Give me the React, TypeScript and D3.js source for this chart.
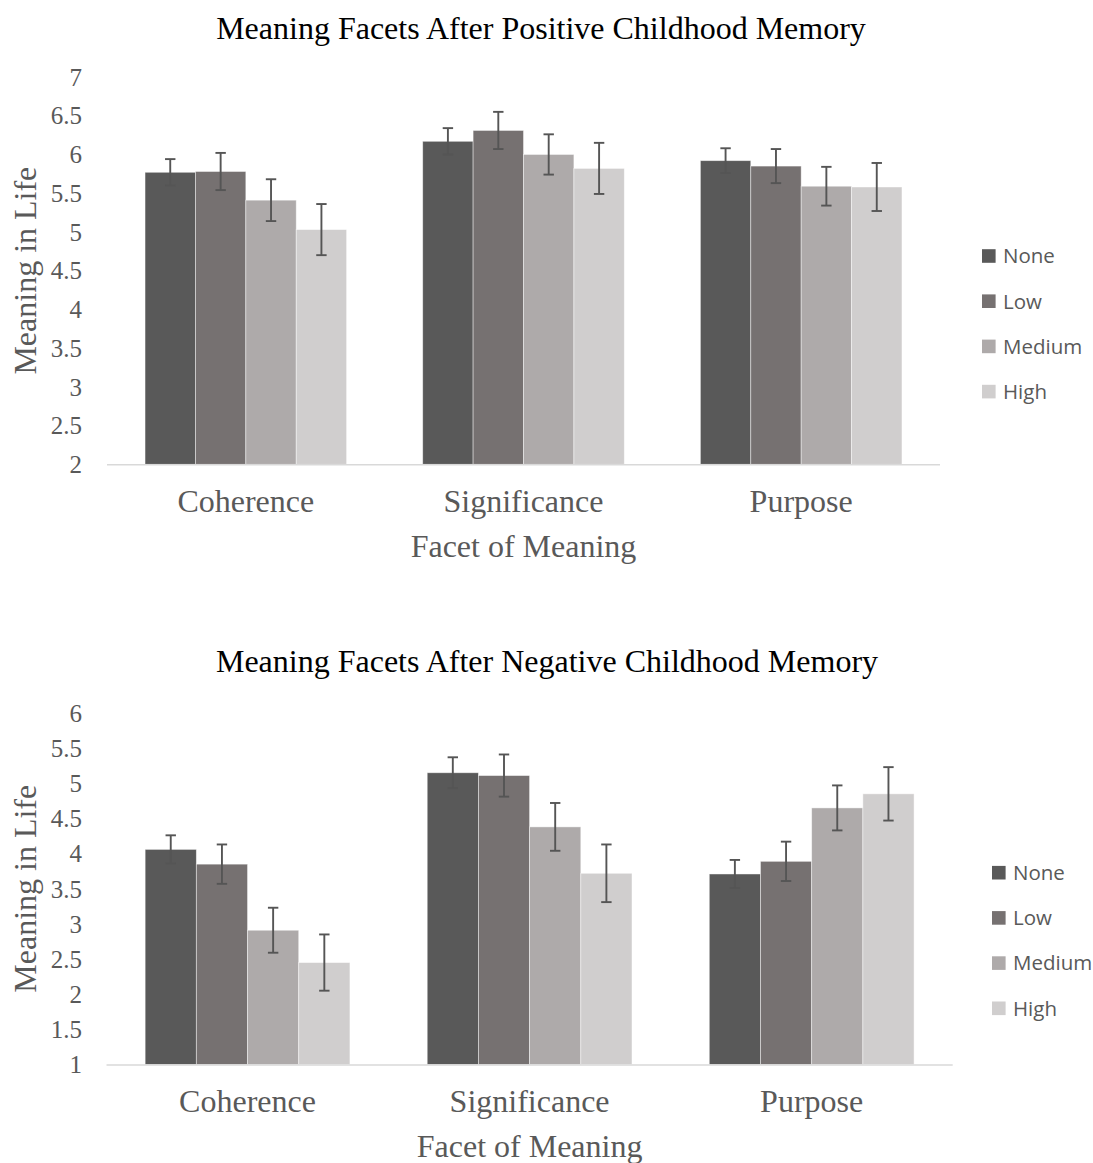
import React from "react";
import * as d3 from "d3";

// Facets of meaning and nostalgia-intensity groups
const categories = ["Coherence", "Significance", "Purpose"];
const groups = ["None", "Low", "Medium", "High"];
const groupColors = ["#595959", "#767171", "#AEAAAA", "#D0CECE"];

// Means and standard errors, one row per facet, one column per group
const positiveMeans = [
  [5.77, 5.78, 5.41, 5.03],
  [6.17, 6.31, 6.0, 5.82],
  [5.92, 5.85, 5.59, 5.58],
];
const positiveErrors = [
  [0.17, 0.24, 0.27, 0.33],
  [0.17, 0.24, 0.26, 0.33],
  [0.16, 0.22, 0.25, 0.31],
];
const negativeMeans = [
  [4.06, 3.85, 2.91, 2.45],
  [5.15, 5.11, 4.38, 3.72],
  [3.71, 3.89, 4.65, 4.85],
];
const negativeErrors = [
  [0.2, 0.28, 0.32, 0.4],
  [0.22, 0.3, 0.34, 0.41],
  [0.2, 0.28, 0.32, 0.38],
];

const positiveTicks = [2, 2.5, 3, 3.5, 4, 4.5, 5, 5.5, 6, 6.5, 7];
const negativeTicks = [1, 1.5, 2, 2.5, 3, 3.5, 4, 4.5, 5, 5.5, 6];

const SERIF = "'Liberation Serif', 'Times New Roman', serif";
const SANS = "'Open Sans', 'Noto Sans', sans-serif";
const TEXT = "#595959";
const BIG = 32;

type PanelProps = {
  title: string;
  titleX: number;
  titleY: number;
  means: number[][];
  errors: number[][];
  ticks: number[];
  xRange: [number, number];
  yRange: [number, number];
  legendX: number;
  legendY: number;
};

function Panel(p: PanelProps) {
  const x0 = d3
    .scaleBand<string>()
    .domain(categories)
    .range(p.xRange)
    .paddingInner(0.274)
    .paddingOuter(0.137);
  const x1 = d3.scaleBand<string>().domain(groups).range([0, x0.bandwidth()]);
  const y = d3
    .scaleLinear()
    .domain([p.ticks[0], p.ticks[p.ticks.length - 1]])
    .range(p.yRange);
  const fmt = d3.format("~g");
  const axisY = y(p.ticks[0]);
  const plotMid = (p.xRange[0] + p.xRange[1]) / 2;
  const yMid = (p.yRange[0] + p.yRange[1]) / 2;
  const cap = 5.2;

  return (
    <g>
      <text
        x={p.titleX}
        y={p.titleY}
        textAnchor="middle"
        fontFamily={SERIF}
        fontSize={BIG}
        fill="#000"
      >
        {p.title}
      </text>

      {p.ticks.map((t) => (
        <text
          key={t}
          x={82}
          y={y(t)}
          dy="0.35em"
          textAnchor="end"
          fontFamily={SERIF}
          fontSize={25}
          fill={TEXT}
        >
          {fmt(t)}
        </text>
      ))}

      <text
        transform={`translate(36,${yMid}) rotate(-90)`}
        textAnchor="middle"
        fontFamily={SERIF}
        fontSize={BIG}
        fill={TEXT}
      >
        Meaning in Life
      </text>

      {categories.map((c, ci) => (
        <g key={c} transform={`translate(${x0(c)},0)`}>
          {groups.map((g, gi) => {
            const v = p.means[ci][gi];
            return (
              <rect
                key={g}
                x={x1(g)}
                y={y(v)}
                width={x1.bandwidth()}
                height={axisY - y(v)}
                fill={groupColors[gi]}
                stroke="#ffffff"
                strokeOpacity={0.55}
                strokeWidth={0.8}
              />
            );
          })}
          {groups.map((g, gi) => {
            const v = p.means[ci][gi];
            const e = p.errors[ci][gi];
            const cx = (x1(g) as number) + x1.bandwidth() / 2;
            return (
              <g key={g} stroke="#555555" strokeWidth={1.9}>
                <line x1={cx} x2={cx} y1={y(v + e)} y2={y(v - e)} />
                <line x1={cx - cap} x2={cx + cap} y1={y(v + e)} y2={y(v + e)} />
                <line x1={cx - cap} x2={cx + cap} y1={y(v - e)} y2={y(v - e)} />
              </g>
            );
          })}
          <text
            x={x0.bandwidth() / 2}
            y={axisY + 47.5}
            textAnchor="middle"
            fontFamily={SERIF}
            fontSize={BIG}
            fill={TEXT}
          >
            {c}
          </text>
        </g>
      ))}

      <line
        x1={p.xRange[0]}
        x2={p.xRange[1]}
        y1={axisY + 0.5}
        y2={axisY + 0.5}
        stroke="#D9D9D9"
        strokeWidth={1.6}
      />

      <text
        x={plotMid}
        y={axisY + 92.5}
        textAnchor="middle"
        fontFamily={SERIF}
        fontSize={BIG}
        fill={TEXT}
      >
        Facet of Meaning
      </text>

      {groups.map((g, gi) => (
        <g key={g} transform={`translate(${p.legendX},${p.legendY + gi * 45.2})`}>
          <rect x={0} y={-6.8} width={13.6} height={13.6} fill={groupColors[gi]} />
          <text
            x={21}
            y={0}
            dy="0.36em"
            fontFamily={SANS}
            fontSize={20.5}
            fill={TEXT}
          >
            {g}
          </text>
        </g>
      ))}
    </g>
  );
}

export default function App() {
  return (
    <svg
      width={1093}
      height={1163}
      style={{ position: "absolute", left: 0, top: 0, background: "#fff" }}
    >
      <rect width={1093} height={1163} fill="#fff" />
      <Panel
        title="Meaning Facets After Positive Childhood Memory"
        titleX={541}
        titleY={39}
        means={positiveMeans}
        errors={positiveErrors}
        ticks={positiveTicks}
        xRange={[107, 940]}
        yRange={[464.3, 77]}
        legendX={982}
        legendY={256}
      />
      <Panel
        title="Meaning Facets After Negative Childhood Memory"
        titleX={547}
        titleY={671.7}
        means={negativeMeans}
        errors={negativeErrors}
        ticks={negativeTicks}
        xRange={[106.5, 952.7]}
        yRange={[1064.5, 713]}
        legendX={992}
        legendY={872.7}
      />
    </svg>
  );
}
